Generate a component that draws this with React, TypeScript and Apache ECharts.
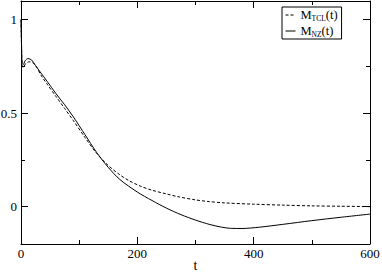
import React, { useEffect, useRef } from "react";
import * as echarts from "echarts";

const tclT = [0, 1, 2, 4, 8, 14, 20, 27, 35, 45, 60, 75, 90, 110, 130, 150, 170, 185, 205, 225, 250, 270, 300, 320, 350, 400, 450, 500, 550, 600];
const tclV = [1.0, 0.84, 0.75, 0.745, 0.765, 0.775, 0.77, 0.745, 0.7, 0.655, 0.59, 0.525, 0.46, 0.37, 0.285, 0.22, 0.17, 0.14, 0.11, 0.088, 0.068, 0.053, 0.036, 0.028, 0.02, 0.013, 0.008, 0.004, 0.002, 0.0];
const nzT = [0, 1, 2, 4, 7, 12, 18, 25, 33, 45, 60, 75, 90, 110, 130, 150, 170, 200, 225, 250, 275, 300, 325, 345, 360, 380, 410, 450, 500, 550, 600];
const nzV = [1.0, 0.86, 0.765, 0.76, 0.78, 0.792, 0.785, 0.755, 0.72, 0.67, 0.605, 0.545, 0.48, 0.385, 0.29, 0.21, 0.145, 0.078, 0.033, -0.008, -0.043, -0.072, -0.096, -0.11, -0.116, -0.117, -0.11, -0.095, -0.075, -0.057, -0.04];
const xTicks = { min: 0, max: 600, interval: 200 };
const yMajor = [0, 0.5, 1];
const yMinor = [0.25, 0.75];
const yRange = { min: -0.2, max: 1.1 };

const FONT = "Liberation Serif";

export default function App() {
  const ref = useRef<HTMLDivElement>(null);
  useEffect(() => {
    if (!ref.current) return;
    const chart = echarts.init(ref.current, null, { renderer: "svg" });
    const lineC = { color: "#000", width: 1 };
    const xBase = (pos: string, labels: boolean) => ({
      type: "value",
      position: pos,
      min: xTicks.min,
      max: xTicks.max,
      interval: xTicks.interval,
      axisLine: { show: true, onZero: false, lineStyle: lineC },
      axisTick: { show: true, inside: true, length: 7, lineStyle: lineC },
      minorTick: { show: true, splitNumber: 2, length: 4, lineStyle: lineC },
      splitLine: { show: false },
      minorSplitLine: { show: false },
      axisLabel: { show: labels, color: "#000", fontFamily: FONT, fontSize: 13, margin: 3 },
      ...(labels
        ? {
            name: "t",
            nameLocation: "middle",
            nameGap: 14,
            nameMoveOverlap: false,
            nameTextStyle: { color: "#000", fontFamily: FONT, fontSize: 14, verticalAlign: "top" },
          }
        : {}),
    });
    const yBase = (pos: string, vals: number[], len: number, labels: boolean, line: boolean) => ({
      type: "value",
      position: pos,
      min: yRange.min,
      max: yRange.max,
      axisLine: { show: line, onZero: false, lineStyle: lineC },
      axisTick: { show: true, inside: true, length: len, customValues: vals, lineStyle: lineC },
      splitLine: { show: false },
      axisLabel: {
        show: labels,
        customValues: vals,
        color: "#000",
        fontFamily: FONT,
        fontSize: 13,
        margin: 4,
        formatter: (v: number) => String(v),
      },
    });
    chart.setOption({
      animation: false,
      backgroundColor: "#fff",
      textStyle: { fontFamily: FONT },
      grid: { left: 21, right: 12, top: 1, bottom: 28, containLabel: false, outerBoundsMode: "none" },
      xAxis: [xBase("bottom", true), xBase("top", false)],
      yAxis: [
        yBase("left", yMajor, 7, true, true),
        yBase("left", yMinor, 4, false, false),
        yBase("right", yMajor, 7, false, true),
        yBase("right", yMinor, 4, false, false),
      ],
      legend: {
        orient: "vertical",
        left: 282,
        top: 7,
        padding: [1, 4, 1, 3],
        itemGap: 2,
        itemWidth: 10,
        itemHeight: 10,
        borderColor: "#000",
        borderWidth: 1,
        borderRadius: 0,
        backgroundColor: "#fff",
        itemStyle: { opacity: 0 },
        lineStyle: { width: 1 },
        data: ["M_TCL(t)", "M_NZ(t)"],
        formatter: (name: string) => {
          const sub = name === "M_TCL(t)" ? "TCL" : "NZ";
          return `{m|M}{s|${sub}}{m|(t)}`;
        },
        textStyle: {
          color: "#000",
          fontFamily: FONT,
          fontSize: 12,
          rich: {
            m: { fontFamily: FONT, fontSize: 12.5, color: "#000", lineHeight: 16 },
            s: { fontFamily: FONT, fontSize: 7.5, color: "#000", lineHeight: 10, padding: [6, 0, 0, 0] },
          },
        },
      },
      series: [
        {
          name: "M_TCL(t)",
          type: "line",
          xAxisIndex: 0,
          yAxisIndex: 0,
          data: tclT.map((t, i) => [t, tclV[i]]),
          symbol: "none",
          smooth: 0.3,
          lineStyle: { color: "#000", width: 1, type: [3, 2] },
          itemStyle: { color: "#000" },
        },
        {
          name: "M_NZ(t)",
          type: "line",
          xAxisIndex: 0,
          yAxisIndex: 0,
          data: nzT.map((t, i) => [t, nzV[i]]),
          symbol: "none",
          smooth: 0.3,
          lineStyle: { color: "#000", width: 1, type: "solid" },
          itemStyle: { color: "#000" },
        },
      ],
    });
    return () => chart.dispose();
  }, []);
  return <div ref={ref} style={{ width: 382, height: 272, position: "absolute", left: 0, top: 0 }} />;
}
